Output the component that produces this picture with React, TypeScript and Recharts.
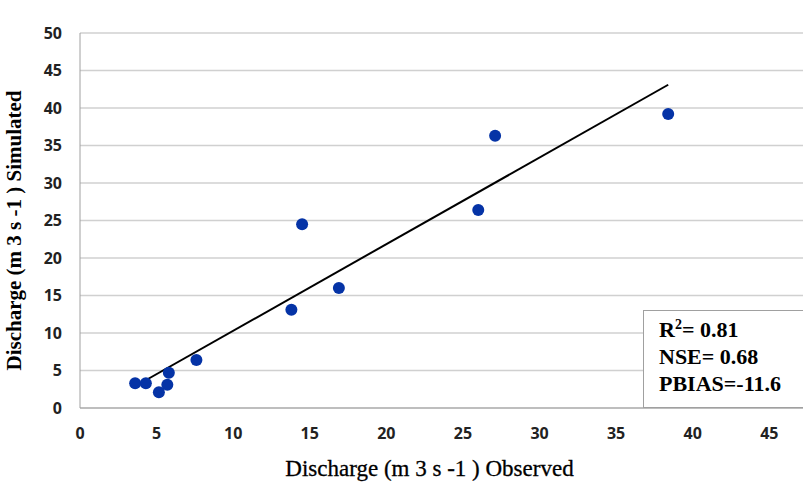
import { ScatterChart, Scatter, XAxis, YAxis, CartesianGrid } from 'recharts'

const observed = [3.6, 4.3, 5.15, 5.7, 5.8, 7.6, 13.8, 14.5, 16.9, 26.0, 27.1, 38.4]
const simulated = [3.3, 3.3, 2.1, 3.1, 4.7, 6.4, 13.1, 24.5, 16.0, 26.4, 36.3, 39.2]

// trend line endpoints
const trendX = [3.6, 38.4]
const trendY = [2.9, 43.1]

const xTicks = [0, 5, 10, 15, 20, 25, 30, 35, 40, 45]
const yTicks = [0, 5, 10, 15, 20, 25, 30, 35, 40, 45, 50]

const stats = ['NSE= 0.68', 'PBIAS=-11.6']

const points = observed.map((x, i) => ({ x, y: simulated[i] }))
const trend = trendX.map((x, i) => ({ x, y: trendY[i] }))

const tickStyle = { fontFamily: 'Open Sans', fontSize: 16, fontWeight: 'bold', fill: '#222' }
const serif = "'Liberation Serif', 'DejaVu Serif', serif"

export default function App() {
  return (
    <div style={{ position: 'absolute', left: 0, top: 0, width: 803, height: 482, background: '#fff' }}>
      <ScatterChart width={803} height={482} margin={{ top: 33, right: 0, bottom: 0, left: 0 }}>
        <CartesianGrid horizontal vertical={false} stroke="#d0d0d0" strokeWidth={1.5} />
        <XAxis
          type="number"
          dataKey="x"
          domain={[0, 47.2]}
          ticks={xTicks}
          allowDataOverflow
          height={74}
          tickLine={false}
          tickMargin={14}
          stroke="#a0a0a0"
          tick={tickStyle}
          label={{
            value: 'Discharge (m 3 s -1 ) Observed',
            position: 'insideBottom',
            offset: 6,
            dx: -12,
            style: { fontFamily: serif, fontSize: 23, fill: '#000', stroke: '#000', strokeWidth: 0.3 },
          }}
        />
        <YAxis
          type="number"
          dataKey="y"
          domain={[0, 50]}
          ticks={yTicks}
          width={80}
          tickLine={false}
          tickMargin={12}
          stroke="#a0a0a0"
          tick={tickStyle}
          label={{
            value: 'Discharge (m 3 s -1 ) Simulated',
            angle: -90,
            position: 'insideLeft',
            offset: 14,
            dy: 10,
            style: { fontFamily: serif, fontSize: 21, fontWeight: 'bold', fill: '#000', textAnchor: 'middle' },
          }}
        />
        <Scatter
          data={trend}
          line={{ stroke: '#000', strokeWidth: 2 }}
          shape={() => null}
          isAnimationActive={false}
        />
        <Scatter
          data={points}
          fill="#0533a6"
          shape={(p: any) => <circle cx={p.cx} cy={p.cy} r={6} fill="#0533a6" />}
          isAnimationActive={false}
        />
      </ScatterChart>
      <div
        style={{
          position: 'absolute',
          left: 643,
          top: 310,
          width: 160,
          height: 98,
          boxSizing: 'border-box',
          border: '1.5px solid #a0a0a0',
          borderRight: 'none',
          background: '#fff',
          fontFamily: serif,
          fontSize: 22,
          fontWeight: 'bold',
          lineHeight: '27px',
          padding: '5px 0 0 15px',
          color: '#000',
        }}
      >
        <div>
          R<sup style={{ fontSize: 14, lineHeight: 0 }}>2</sup>= 0.81
        </div>
        {stats.map((s) => (
          <div key={s}>{s}</div>
        ))}
      </div>
    </div>
  )
}
